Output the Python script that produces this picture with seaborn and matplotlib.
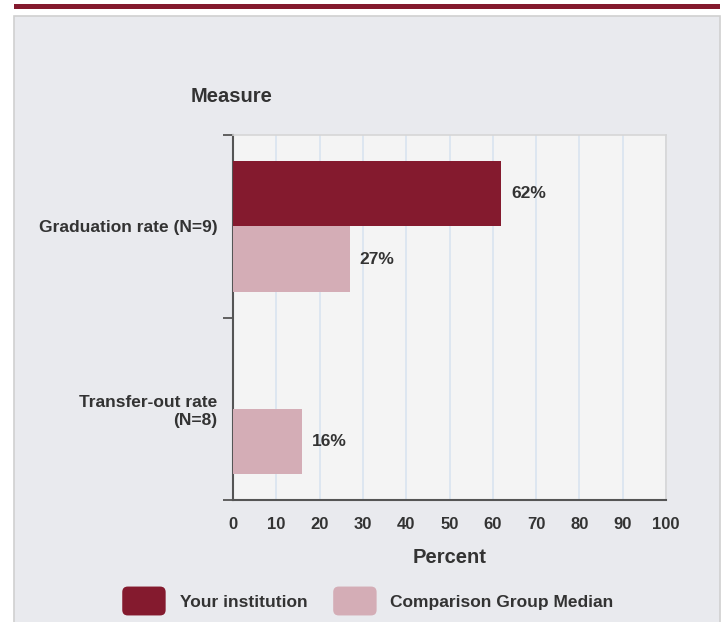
import matplotlib
matplotlib.use("Agg")
import matplotlib.pyplot as plt
from matplotlib.patches import Patch, Rectangle, FancyBboxPatch
from matplotlib.legend_handler import HandlerPatch
import seaborn as sns
import pandas as pd
import numpy as np

# data
measures = ["Graduation rate (N=9)", "Transfer-out rate\n(N=8)"]
groups = ["Your institution", "Comparison Group Median"]
your_institution = [62, np.nan]
comparison_median = [27, 16]
x_ticks = [0, 10, 20, 30, 40, 50, 60, 70, 80, 90, 100]

colors = {"Your institution": "#841a2e", "Comparison Group Median": "#d4adb6"}
text_color = "#333333"

df = pd.DataFrame({
    "Measure": measures * 2,
    "Group": [groups[0]] * len(measures) + [groups[1]] * len(measures),
    "Percent": your_institution + comparison_median,
})

sns.set_style("white")
plt.rcParams["font.family"] = ["Liberation Sans", "DejaVu Sans"]
plt.rcParams["font.weight"] = "bold"

fig = plt.figure(figsize=(7.26, 6.22), dpi=100)
fig.patch.set_facecolor("white")

# outer panel + top band
fig.patches.append(Rectangle((14 / 726, -0.01), 706 / 726, 1 - 16 / 622 + 0.01,
                             transform=fig.transFigure, facecolor="#e9eaee",
                             edgecolor="#d0d0d0", linewidth=1.2, zorder=-2))
fig.patches.append(Rectangle((14 / 726, 1 - 9 / 622), 706 / 726, 5 / 622,
                             transform=fig.transFigure, facecolor="#841a2e",
                             edgecolor="none", zorder=-2))

ax = fig.add_axes([233 / 726, 1 - 500 / 622, 433 / 726, 365 / 622])
ax.set_zorder(2)
ax.set_facecolor("#f4f4f4")

sns.barplot(data=df, y="Measure", x="Percent", hue="Group", order=measures,
            hue_order=groups, palette=colors, orient="h", width=0.72,
            errorbar=None, ax=ax, legend=False, saturation=1, linewidth=0,
            zorder=3)

for c in ax.containers:
    vals = c.datavalues
    labels = ["" if np.isnan(v) else f"{v:.0f}%" for v in vals]
    ax.bar_label(c, labels=labels, padding=7, fontsize=12.5, fontweight="bold",
                 color=text_color)

ax.set_xlim(0, 100)
ax.set_ylim(1.5, -0.5)
ax.set_xticks(x_ticks)
ax.set_xticklabels([str(t) for t in x_ticks])
ax.xaxis.grid(True, color="#d9e4f0", linewidth=1.2, zorder=0)
ax.set_axisbelow(True)

ax.set_yticks([-0.5, 0.5, 1.5], minor=True)
ax.tick_params(axis="y", which="major", left=False, length=0, pad=11,
               labelsize=12.5, labelcolor=text_color)
ax.tick_params(axis="y", which="minor", left=True, length=7, width=1.3,
               color="#555555")
ax.tick_params(axis="x", length=0, pad=12, labelsize=12, labelcolor=text_color)
for lab in ax.get_yticklabels() + ax.get_xticklabels():
    lab.set_fontweight("bold")
for lab in ax.get_yticklabels():
    lab.set_horizontalalignment("right")
    lab.set_multialignment("right")

for s in ["top", "right"]:
    ax.spines[s].set_color("#d6d6d6")
    ax.spines[s].set_linewidth(1.2)
for s in ["left", "bottom"]:
    ax.spines[s].set_color("#555555")
    ax.spines[s].set_linewidth(1.5)

ax.set_ylabel("")
ax.set_xlabel("Percent", fontsize=14.5, fontweight="bold", color=text_color,
              labelpad=12)
fig.text(232 / 726, 1 - 97 / 622, "Measure", ha="center", va="center",
         fontsize=14.5, fontweight="bold", color=text_color)


class RoundedHandler(HandlerPatch):
    def create_artists(self, legend, orig_handle, xdescent, ydescent, width,
                       height, fontsize, trans):
        p = FancyBboxPatch((-xdescent, -ydescent - 4), width, height + 8,
                           boxstyle="round,pad=0,rounding_size=4",
                           facecolor=orig_handle.get_facecolor(),
                           edgecolor="none", transform=trans)
        return [p]


handles = [Patch(facecolor=colors[g], label=g) for g in groups]
fig.legend(handles=handles, loc="center", bbox_to_anchor=(368 / 726, 1 - 601 / 622),
           ncol=2, frameon=False, handlelength=2.5, handleheight=1.2,
           handletextpad=0.8, columnspacing=1.5,
           handler_map={Patch: RoundedHandler()}, labelcolor=text_color,
           prop={"weight": "bold", "size": 12.5})

fig.savefig("out.png", dpi=100, facecolor=fig.get_facecolor())
